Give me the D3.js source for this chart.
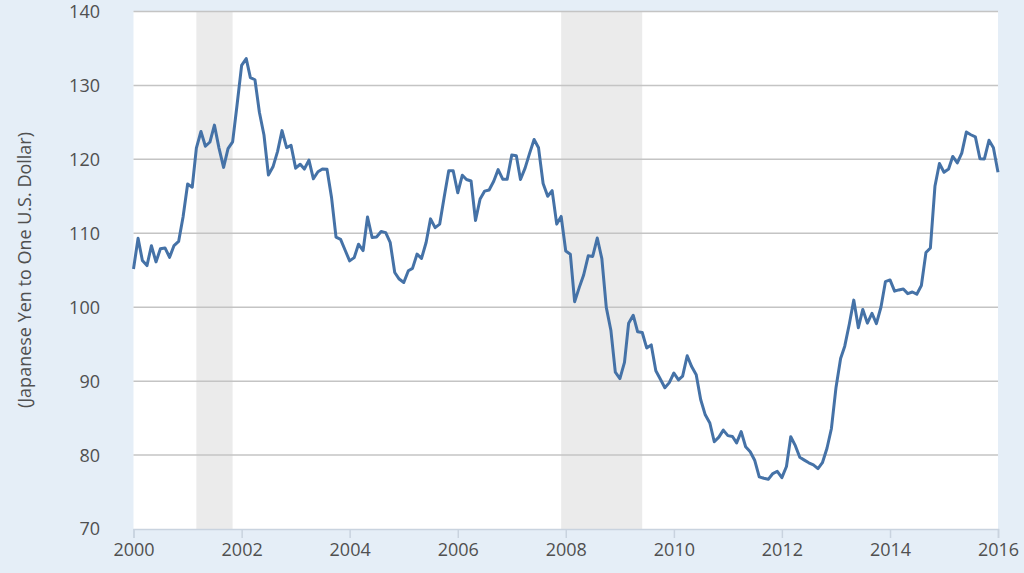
<!DOCTYPE html>
<html><head><meta charset="utf-8">
<script src="https://cdn.jsdelivr.net/npm/d3@7"></script>
<style>
html,body{margin:0;padding:0;background:#e5eef7;}
svg{display:block;font-family:"Open Sans",sans-serif;}
</style></head><body>
<svg id="c" width="1024" height="573"></svg>
<script>
const startYear = 2000;
const values = [
105.16,109.34,106.31,105.63,108.32,106.13,107.90,108.02,106.75,108.34,108.90,112.21,
116.67,116.23,121.51,123.77,121.77,122.35,124.63,121.52,118.91,121.45,122.37,127.36,
132.71,133.63,131.06,130.77,126.38,123.29,117.88,118.99,121.08,123.89,121.58,121.89,
118.81,119.34,118.69,119.90,117.37,118.33,118.70,118.66,114.80,109.48,109.18,107.74,
106.27,106.71,108.52,107.66,112.20,109.43,109.49,110.23,110.09,108.78,104.70,103.81,
103.34,104.94,105.25,107.19,106.60,108.75,111.95,110.76,111.24,114.87,118.45,118.46,
115.48,117.86,117.28,117.07,111.73,114.63,115.70,115.86,117.03,118.61,117.32,117.32,
120.59,120.49,117.27,118.81,120.77,122.69,121.56,116.74,115.01,115.77,111.24,112.28,
107.60,107.18,100.75,102.65,104.36,106.95,106.86,109.36,106.57,99.98,96.89,91.21,
90.35,92.53,97.83,98.92,96.67,96.58,94.49,94.90,91.40,90.28,89.11,89.80,
91.10,90.17,90.67,93.44,91.97,90.87,87.51,85.44,84.34,81.80,82.43,83.38,
82.63,82.52,81.65,83.18,81.13,80.44,79.31,77.06,76.86,76.72,77.50,77.81,
76.94,78.45,82.47,81.27,79.70,79.32,78.96,78.68,78.17,78.97,80.92,83.60,
89.15,93.07,94.73,97.73,100.96,97.23,99.70,97.85,99.18,97.77,100.03,103.46,
103.69,102.17,102.34,102.47,101.84,102.06,101.76,102.94,107.40,108.02,116.40,119.44,
118.25,118.69,120.39,119.51,120.84,123.69,123.33,123.04,120.09,120.06,122.58,121.57,
118.25
];
const recessions = [["2001-03-01","2001-11-01"],["2007-12-01","2009-06-01"]];
const yTicks = [70,80,90,100,110,120,130,140];
const xTickYears = [2000,2002,2004,2006,2008,2010,2012,2014,2016];
const yLabel = "(Japanese Yen to One U.S. Dollar)";

const data = values.map((v,i)=>({d:new Date(startYear + Math.floor(i/12), i%12, 1), v}));
const svg = d3.select("#c");
const L=133.5, R=998, T=11.5, B=529;
const x = d3.scaleTime().domain([new Date(2000,0,1), new Date(2016,0,1)]).range([L,R]);
const y = d3.scaleLinear().domain([70,140]).range([B,T]);
const txt = "#505050";

svg.append("rect").attr("x",L).attr("y",T).attr("width",R-L).attr("height",B-T).attr("fill","#ffffff");

const pd = d3.timeParse("%Y-%m-%d");
svg.selectAll(".rec").data(recessions).join("rect")
  .attr("x",d=>x(pd(d[0]))).attr("y",T)
  .attr("width",d=>x(pd(d[1]))-x(pd(d[0]))).attr("height",B-T)
  .attr("fill","#ebebeb");

// grid
svg.selectAll(".grid").data(yTicks.filter(t=>t>70)).join("line")
  .attr("x1",L).attr("x2",R).attr("y1",d=>y(d)).attr("y2",d=>y(d))
  .attr("stroke","#c4c4c4").attr("stroke-width",1.5);

// y tick labels
svg.selectAll(".yl").data(yTicks).join("text")
  .attr("x",100).attr("y",d=>y(d)).attr("dy","0.36em")
  .attr("text-anchor","end").attr("font-size",18).attr("fill",txt)
  .text(d=>d);

// x axis
const xAxis = d3.axisBottom(x).tickValues(xTickYears.map(yy=>new Date(yy,0,1)))
  .tickFormat(d3.timeFormat("%Y")).tickSize(9).tickPadding(5);
const gx = svg.append("g").attr("transform",`translate(0,${B})`).call(xAxis);
gx.select(".domain").attr("stroke","#c9d3df").attr("stroke-width",1.5);
gx.selectAll(".tick line").attr("stroke","#c9d3df").attr("stroke-width",1.5);
gx.selectAll(".tick text").attr("font-size",18).attr("fill",txt).attr("font-family","Open Sans");

// y label
svg.append("text").attr("transform","translate(31,270) rotate(-90)")
  .attr("text-anchor","middle").attr("font-size",18).attr("fill",txt).text(yLabel);

// line
const line = d3.line().x(d=>x(d.d)).y(d=>y(d.v));
svg.append("path").datum(data).attr("d",line).attr("fill","none")
  .attr("stroke","#4572a7").attr("stroke-width",3).attr("stroke-linejoin","round");
</script>
</body></html>
